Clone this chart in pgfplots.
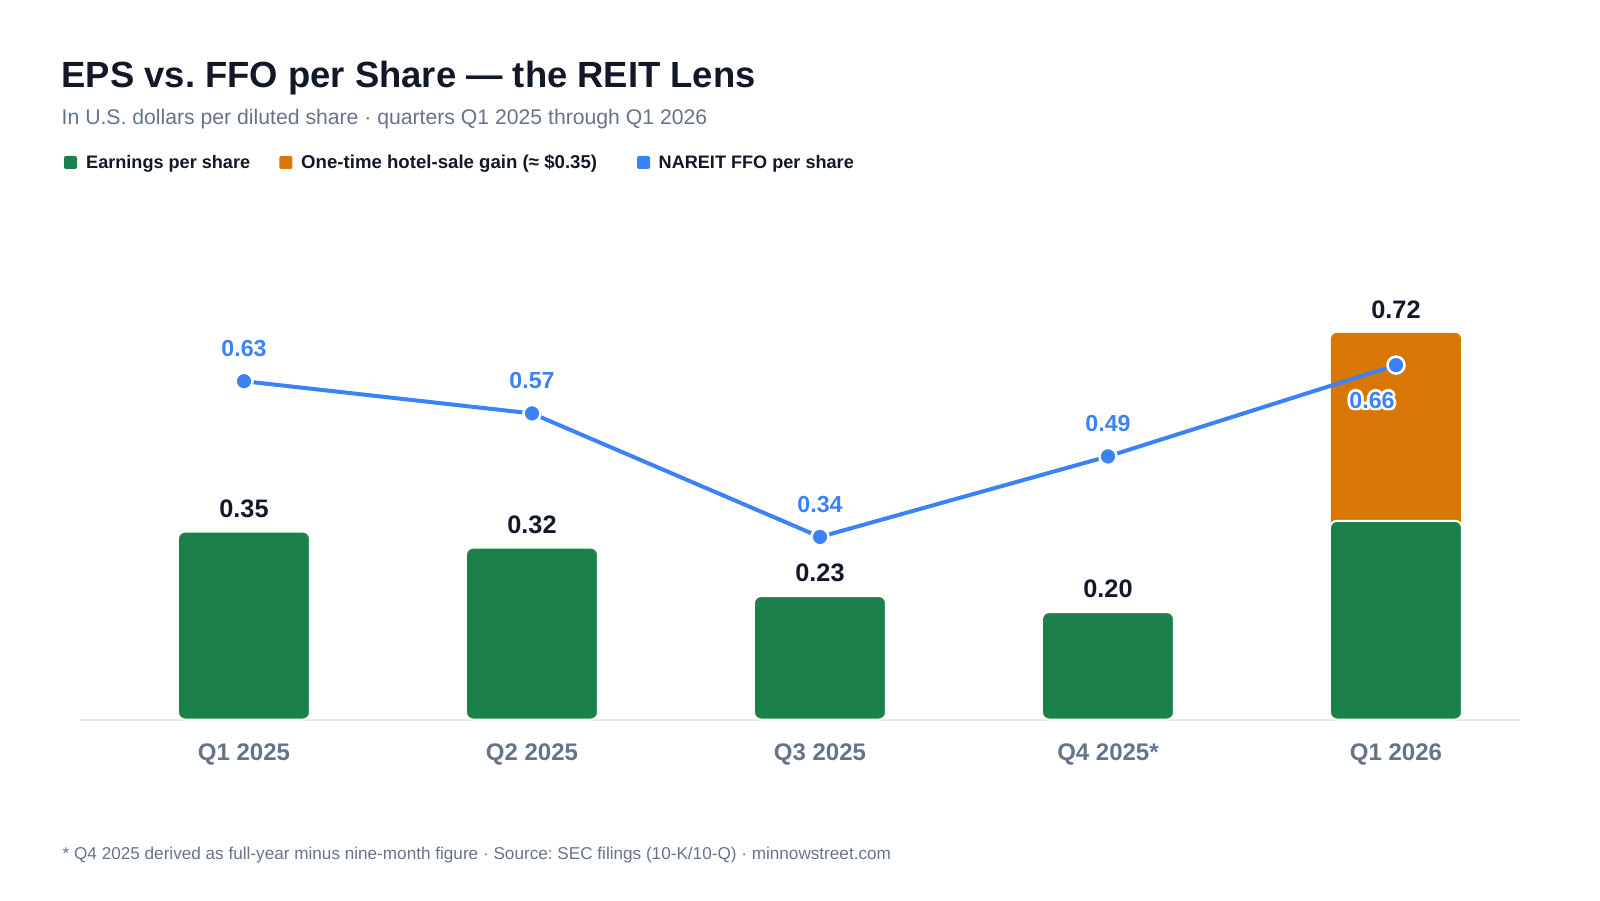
\documentclass[border=0pt]{standalone}
\usepackage{pgfplots}
\pgfplotsset{compat=1.18}
\usepackage{fontspec}
\setmainfont{Liberation Sans}
\frenchspacing
\definecolor{epsgreen}{HTML}{1C804D}
\definecolor{hotel}{HTML}{D97706}
\definecolor{ffoblue}{HTML}{3B82F6}
\definecolor{dark}{HTML}{111827}
\definecolor{slate}{HTML}{64748B}
\definecolor{axisgray}{HTML}{E2E8F0}
\newcommand\fs[1]{\fontsize{#1}{#1}\selectfont}
\newcommand\halo[1]{{\setbox0\hbox{#1}%
\def\h##1##2{\rlap{\kern##1\raisebox{##2}{\color{white}\copy0}}}%
\h{0.8pt}{0pt}\h{-0.8pt}{0pt}\h{0pt}{0.8pt}\h{0pt}{-0.8pt}%
\h{0.57pt}{0.57pt}\h{-0.57pt}{0.57pt}\h{0.57pt}{-0.57pt}\h{-0.57pt}{-0.57pt}%
\copy0}}
\begin{document}
\begin{tikzpicture}
\path[use as bounding box] (0,0) rectangle (16,9);
% title block
\node[anchor=base west, inner sep=0, text=dark, font=\bfseries\fs{10.36pt}] at (0.61,8.123) {EPS vs.\ FFO per Share — the REIT Lens};
\node[anchor=base west, inner sep=0, text=slate, font=\fs{6.03pt}] at (0.61,7.75) {In U.S. dollars per diluted share · quarters Q1 2025 through Q1 2026};
% legend
\fill[epsgreen, rounded corners=0.02cm] (0.64,7.31) rectangle (0.77,7.44);
\node[anchor=base west, inner sep=0, text=dark, font=\bfseries\fs{5.15pt}] at (0.855,7.317) {Earnings per share};
\fill[hotel, rounded corners=0.02cm] (2.793,7.31) rectangle (2.923,7.44);
\node[anchor=base west, inner sep=0, text=dark, font=\bfseries\fs{5.3pt}] at (3.005,7.317) {One-time hotel-sale gain (≈ \$0.35)};
\fill[ffoblue, rounded corners=0.02cm] (6.37,7.31) rectangle (6.50,7.44);
\node[anchor=base west, inner sep=0, text=dark, font=\bfseries\fs{5.15pt}] at (6.58,7.317) {NAREIT FFO per share};
% footnote
\node[anchor=base west, inner sep=0, text=slate, font=\fs{4.88pt}] at (0.62,0.41) {* Q4 2025 derived as full-year minus nine-month figure · Source: SEC filings (10-K/10-Q) · minnowstreet.com};
\begin{axis}[
  at={(0.80cm,1.805cm)}, anchor=south west,
  scale only axis, width=14.40cm, height=4.833cm,
  xmin=-0.5694, xmax=4.4306, ymin=0, ymax=0.9,
  axis x line*=bottom, axis y line=none,
  x axis line style={draw=axisgray, line width=0.02cm, -},
  xtick={0,1,2,3,4},
  xticklabels={Q1 2025, Q2 2025, Q3 2025, Q4 2025*, Q1 2026},
  major tick length=0pt, ytick=\empty,
  xticklabel style={anchor=base, yshift=-0.405cm, font=\bfseries\fs{6.83pt}, text=slate},
  clip=false,
]
\addplot[ybar, bar width=1.30cm, bar shift=0pt, fill=hotel, draw=none, rounded corners=0.06cm] coordinates {(4,0.72)};
\addplot[ybar, bar width=1.32cm, bar shift=0pt, fill=epsgreen, draw=white, line width=0.02cm, rounded corners=0.07cm] coordinates {(0,0.35) (1,0.32) (2,0.23) (3,0.20) (4,0.37)};
\addplot[draw=none, mark=none, point meta=explicit symbolic, nodes near coords,
  nodes near coords align={anchor=center},
  every node near coord/.append style={anchor=center, yshift=0.23cm, font=\bfseries\fs{7.2pt}, text=dark, inner sep=0}]
  coordinates {(0,0.35)[0.35] (1,0.32)[0.32] (2,0.23)[0.23] (3,0.20)[0.20] (4,0.72)[0.72]};
\addplot[ffoblue, line width=0.04cm, mark=*, mark size=0.085cm, mark options={fill=ffoblue, draw=white, line width=0.025cm}]
  coordinates {(0,0.63) (1,0.57) (2,0.34) (3,0.49) (4,0.66)};
\addplot[draw=none, mark=none, point meta=explicit symbolic, nodes near coords,
  nodes near coords align={anchor=center},
  every node near coord/.append style={anchor=center, yshift=0.327cm, font=\bfseries\fs{6.6pt}, text=ffoblue, inner sep=0}]
  coordinates {(0,0.63)[0.63] (1,0.57)[0.57] (2,0.34)[0.34] (3,0.49)[0.49]};
\addplot[draw=none, mark=none, point meta=explicit symbolic, nodes near coords={\halo{\pgfplotspointmeta}},
  nodes near coords align={anchor=center},
  every node near coord/.append style={anchor=center, xshift=-0.24cm, yshift=-0.35cm, font=\bfseries\fs{6.6pt}, text=ffoblue, inner sep=0}]
  coordinates {(4,0.66)[0.66]};
\end{axis}
\end{tikzpicture}
\end{document}
